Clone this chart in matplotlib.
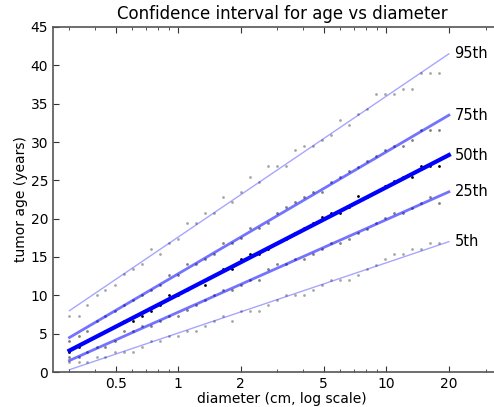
import matplotlib

matplotlib.use("Agg")
import matplotlib.pyplot as plt  # noqa: E402

# tumour diameters (cm) of the sampled points
diam = [0.300, 0.332, 0.366, 0.405, 0.447, 0.494, 0.546, 0.604, 0.667, 0.737,
        0.814, 0.900, 0.994, 1.099, 1.214, 1.342, 1.482, 1.638, 1.810, 2.000,
        2.210, 2.442, 2.699, 2.982, 3.295, 3.641, 4.024, 4.446, 4.913, 5.429,
        5.999, 6.629, 7.325, 8.094, 8.944, 9.883, 10.92, 12.07, 13.34, 14.74,
        16.28, 17.99]

# empirical percentiles of age (years) at each diameter
p95 = [7.35, 7.35, 8.7, 10.0, 10.7, 11.4, 12.8, 13.4, 14.1, 16.1,
       15.4, 16.8, 17.4, 19.5, 19.5, 20.8, 20.8, 22.8, 22.2, 23.5,
       25.5, 24.8, 26.9, 26.9, 26.9, 28.9, 29.5, 29.5, 30.2, 30.9,
       32.9, 32.2, 33.6, 34.3, 36.3, 36.3, 36.3, 36.9, 36.9, 39.0,
       39.0, 39.0]
p75 = [4.0, 4.65, 5.3, 6.65, 7.35, 8.0, 8.7, 9.4, 10.1, 10.7,
       11.4, 12.7, 12.7, 14.1, 14.1, 14.8, 15.4, 16.8, 16.8, 17.5,
       18.8, 18.8, 19.5, 20.8, 21.5, 22.2, 22.8, 23.5, 23.5, 24.8,
       25.5, 26.2, 26.8, 27.5, 28.2, 28.9, 29.5, 29.5, 30.2, 31.6,
       31.6, 31.6]
p50 = [2.65, 3.3, 4.0, 4.65, 5.3, 6.0, 6.7, 6.7, 7.35, 8.0,
       8.7, 10.0, 10.0, 10.7, 11.4, 11.4, 12.7, 13.4, 13.4, 14.7,
       15.4, 15.4, 16.1, 16.8, 17.4, 18.1, 18.8, 19.5, 20.2, 20.8,
       20.8, 21.5, 22.9, 22.8, 23.5, 24.2, 24.9, 25.5, 25.5, 26.9,
       26.9, 26.9]
p25 = [2.0, 2.0, 2.65, 3.3, 3.3, 4.0, 5.3, 5.3, 6.0, 6.0,
       6.7, 7.35, 7.35, 8.1, 8.7, 9.4, 10.0, 10.7, 10.7, 11.4,
       12.0, 12.0, 13.4, 14.1, 14.1, 14.7, 14.7, 15.4, 16.1, 16.8,
       16.8, 17.4, 18.1, 18.7, 19.4, 20.1, 20.8, 20.8, 21.4, 22.1,
       22.8, 22.1]
p05 = [1.35, 1.3, 1.3, 2.0, 2.0, 2.65, 2.65, 2.65, 3.3, 4.0,
       4.0, 4.65, 4.65, 5.35, 5.35, 6.0, 6.7, 7.35, 6.7, 8.0,
       8.0, 8.0, 8.7, 9.4, 10.0, 10.0, 10.0, 10.7, 11.4, 12.0,
       12.0, 12.0, 12.7, 13.4, 14.0, 14.7, 15.4, 15.4, 16.1, 16.1,
       16.8, 16.8]

# fitted percentile lines (straight in log diameter), end points
fit_x = [0.3, 20.0]
fit = {
    "95th": [8.0, 41.5],
    "75th": [4.5, 33.5],
    "50th": [2.8, 28.3],
    "25th": [1.5, 23.5],
    "5th": [0.3, 17.0],
}
points = {"95th": p95, "75th": p75, "50th": p50, "25th": p25, "5th": p05}

# line alpha / width and dot alpha per percentile
style = {
    "95th": (0.35, 1.0, 0.35),
    "75th": (0.55, 2.0, 0.5),
    "50th": (1.0, 3.0, 1.0),
    "25th": (0.55, 2.0, 0.5),
    "5th": (0.35, 1.0, 0.35),
}

fig = plt.figure(figsize=(4.94, 4.07), dpi=100)
ax = fig.add_axes([53 / 494, 35 / 407, 458.5 / 494, 345 / 407])

for name, ys in points.items():
    la, lw, da = style[name]
    ax.plot(diam, ys, ".", color="k", alpha=da, ms=4, mew=0)
    ax.plot(fit_x, fit[name], color="blue", alpha=la, lw=lw)
    ax.annotate(name, (fit_x[-1], fit[name][-1]), xytext=(4, 0),
                textcoords="offset points", va="center", ha="left", fontsize=10.5)

ax.set_xscale("log")
ax.set_xlim(0.25, 40)
ax.set_ylim(0, 45)
ax.set_xticks([0.5, 1, 2, 5, 10, 20])
ax.set_xticklabels(["0.5", "1", "2", "5", "10", "20"])
ax.set_yticks(range(0, 46, 5))

for side in ("left", "bottom", "top", "right"):
    ax.spines[side].set_color("#555555")
    ax.spines[side].set_linewidth(1.2)
ax.tick_params(which="both", direction="in", top=True, right=True,
               color="#333333", labelsize=10)
ax.tick_params(which="major", length=4)
ax.tick_params(which="minor", length=2)

ax.set_xlabel("diameter (cm, log scale)", fontsize=10, labelpad=1)
ax.set_ylabel("tumor age (years)", fontsize=10, labelpad=2)
ax.set_title("Confidence interval for age vs diameter", fontsize=12, pad=6)

fig.savefig("out.png", dpi=100)
